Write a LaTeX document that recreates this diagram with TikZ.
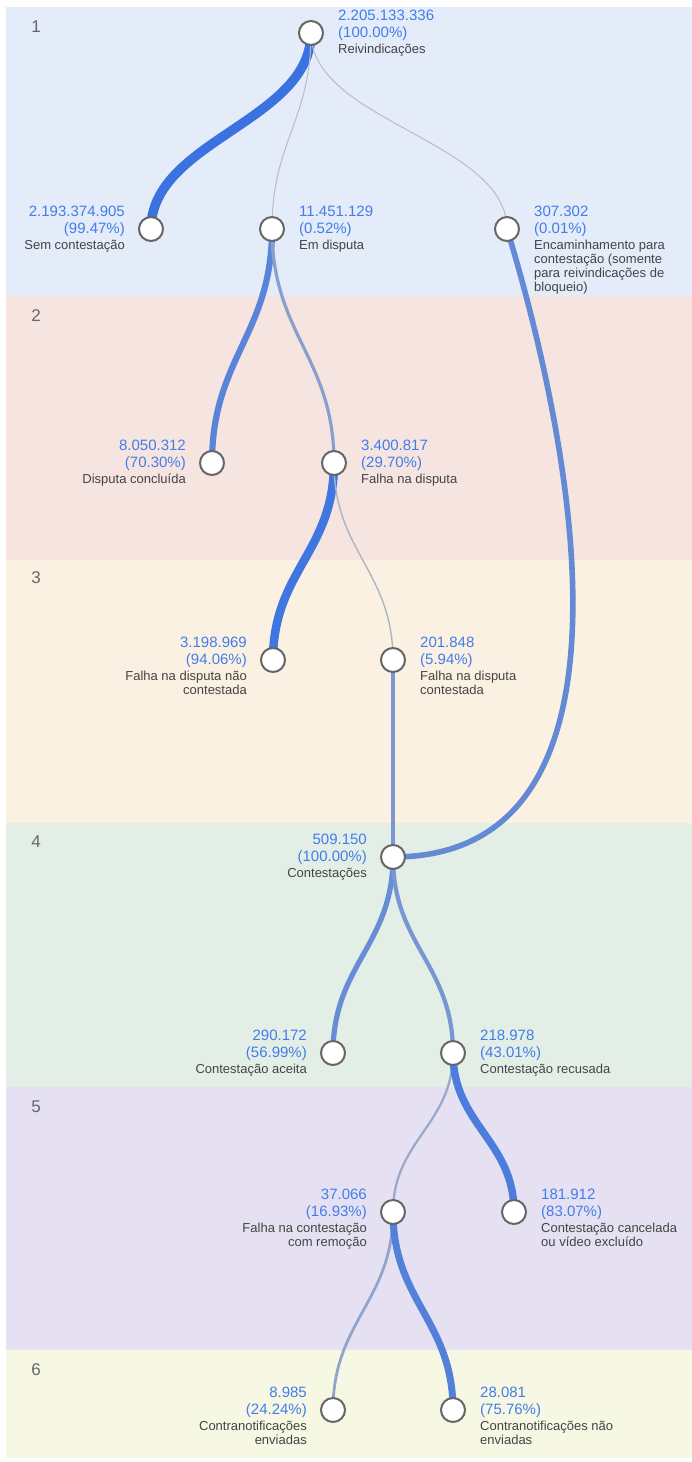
\documentclass[tikz,border=0pt]{standalone}
\usepackage{fontspec}
\setmainfont{Liberation Sans}
\usetikzlibrary{calc}
\pgfdeclarelayer{bg}
\pgfdeclarelayer{edges}
\pgfsetlayers{bg,edges,main}
\definecolor{bandA}{HTML}{E4EBF9}
\definecolor{bandB}{HTML}{F6E4E1}
\definecolor{bandC}{HTML}{FBF1E2}
\definecolor{bandD}{HTML}{E3EFE6}
\definecolor{bandE}{HTML}{E6E1F2}
\definecolor{bandF}{HTML}{F6F8E4}
\definecolor{fblue}{HTML}{3A72E0}
\definecolor{fgray}{HTML}{B9BCC3}
\definecolor{numblue}{HTML}{427DEB}
\definecolor{lblgray}{HTML}{444444}
\definecolor{ring}{HTML}{666666}
\definecolor{lvgray}{HTML}{666666}
\tikzset{
  state/.style={circle, draw=ring, line width=2pt, fill=white, minimum size=24pt, inner sep=0pt},
  flow/.style n args={2}{line width=#1pt, draw=fblue!#2!fgray},
  numtxt/.style={font=\fontsize{15}{17}\selectfont, text=numblue, inner sep=0pt},
  lbltxt/.style={font=\fontsize{13}{14}\selectfont, text=lblgray, inner sep=0pt},
  lvtxt/.style={font=\fontsize{17}{20}\selectfont, text=lvgray, inner sep=0pt},
  band/.style={draw=none}
}
\newcommand\tagR[4]{%
  \node[numtxt, anchor=base west] (#1-num) at ([shift={(27,-12.6)}]#1.center) {#2};
  \node[numtxt, anchor=base west] (#1-pct) at ([shift={(27,4.4)}]#1.center) {#3};
  \foreach \t [count=\i] in {#4} {
    \node[lbltxt, anchor=base west] (#1-l\i) at ([shift={(27,{20.5+14*(\i-1)})}]#1.center) {\t};
  }
}
\newcommand\tagL[4]{%
  \node[numtxt, anchor=base east] (#1-num) at ([shift={(-26,-12.6)}]#1.center) {#2};
  \node[numtxt, anchor=base east] (#1-pct) at ([shift={(-26,4.4)}]#1.center) {#3};
  \foreach \t [count=\i] in {#4} {
    \node[lbltxt, anchor=base east] (#1-l\i) at ([shift={(-26,{20.5+14*(\i-1)})}]#1.center) {\t};
  }
}
\newcommand\flowS[4]{%
  \draw[flow={#3}{#4}] let \p1=(#1.center), \p2=(#2.center) in
    (\p1) .. controls (\x1, {\y1+0.45*(\y2-\y1)}) and (\x2, {\y2-0.45*(\y2-\y1)}) .. (\p2);
}
\begin{document}
\begin{tikzpicture}[x=1pt, y=-1pt]
\useasboundingbox (0,0) rectangle (692,1462);
\begin{pgfonlayer}{bg}
  \fill[bandA] (6,7) rectangle (692,296);
  \fill[bandB] (6,296) rectangle (692,560);
  \fill[bandC] (6,560) rectangle (692,823);
  \fill[bandD] (6,823) rectangle (692,1087);
  \fill[bandE] (6,1087) rectangle (692,1350);
  \fill[bandF] (6,1350) rectangle (692,1458);
\end{pgfonlayer}
\node[lvtxt] (lv1) at (36,27) {1};
\node[lvtxt] (lv2) at (36,316) {2};
\node[lvtxt] (lv3) at (36,578) {3};
\node[lvtxt] (lv4) at (36,842) {4};
\node[lvtxt] (lv5) at (36,1107) {5};
\node[lvtxt] (lv6) at (36,1370) {6};

\node[state] (R) at (311,33) {};
\node[state] (Sem) at (151,229) {};
\node[state] (Disp) at (272,229) {};
\node[state] (Enc) at (507,229) {};
\node[state] (Conc) at (212,463) {};
\node[state] (Falha) at (334,463) {};
\node[state] (NaoC) at (273,660) {};
\node[state] (ContT) at (393,660) {};
\node[state] (Contest) at (393,857) {};
\node[state] (Aceita) at (333,1053) {};
\node[state] (Recus) at (453,1053) {};
\node[state] (FalhaC) at (393,1212) {};
\node[state] (Cancel) at (514,1212) {};
\node[state] (Env) at (333,1410) {};
\node[state] (NEnv) at (453,1410) {};

\begin{pgfonlayer}{edges}
  \flowS{R}{Sem}{9.5}{100}
  \flowS{R}{Disp}{1}{0}
  \flowS{R}{Enc}{1}{0}
  \flowS{Disp}{Conc}{6.2}{75}
  \flowS{Disp}{Falha}{3.2}{38}
  \flowS{Falha}{NaoC}{8.5}{95}
  \flowS{Falha}{ContT}{1.4}{10}
  \flowS{ContT}{Contest}{4}{48}
  \draw[flow={5.6}{67}] (Enc.center) .. controls (570,435) and (657,857) .. (Contest.center);
  \flowS{Contest}{Aceita}{5.2}{64}
  \flowS{Contest}{Recus}{4.2}{51}
  \flowS{Recus}{FalhaC}{2.3}{24}
  \flowS{Recus}{Cancel}{7.5}{86}
  \flowS{FalhaC}{Env}{2.8}{32}
  \flowS{FalhaC}{NEnv}{7}{80}
\end{pgfonlayer}

\tagR{R}{2.205.133.336}{(100.00\%)}{Reivindicações}
\tagL{Sem}{2.193.374.905}{(99.47\%)}{Sem contestação}
\tagR{Disp}{11.451.129}{(0.52\%)}{Em disputa}
\tagR{Enc}{307.302}{(0.01\%)}{Encaminhamento para,contestação (somente,para reivindicações de,bloqueio)}
\tagL{Conc}{8.050.312}{(70.30\%)}{Disputa concluída}
\tagR{Falha}{3.400.817}{(29.70\%)}{Falha na disputa}
\tagL{NaoC}{3.198.969}{(94.06\%)}{Falha na disputa não,contestada}
\tagR{ContT}{201.848}{(5.94\%)}{Falha na disputa,contestada}
\tagL{Contest}{509.150}{(100.00\%)}{Contestações}
\tagL{Aceita}{290.172}{(56.99\%)}{Contestação aceita}
\tagR{Recus}{218.978}{(43.01\%)}{Contestação recusada}
\tagL{FalhaC}{37.066}{(16.93\%)}{Falha na contestação,com remoção}
\tagR{Cancel}{181.912}{(83.07\%)}{Contestação cancelada,ou vídeo excluído}
\tagL{Env}{8.985}{(24.24\%)}{Contranotificações,enviadas}
\tagR{NEnv}{28.081}{(75.76\%)}{Contranotificações não,enviadas}
\end{tikzpicture}
\end{document}
